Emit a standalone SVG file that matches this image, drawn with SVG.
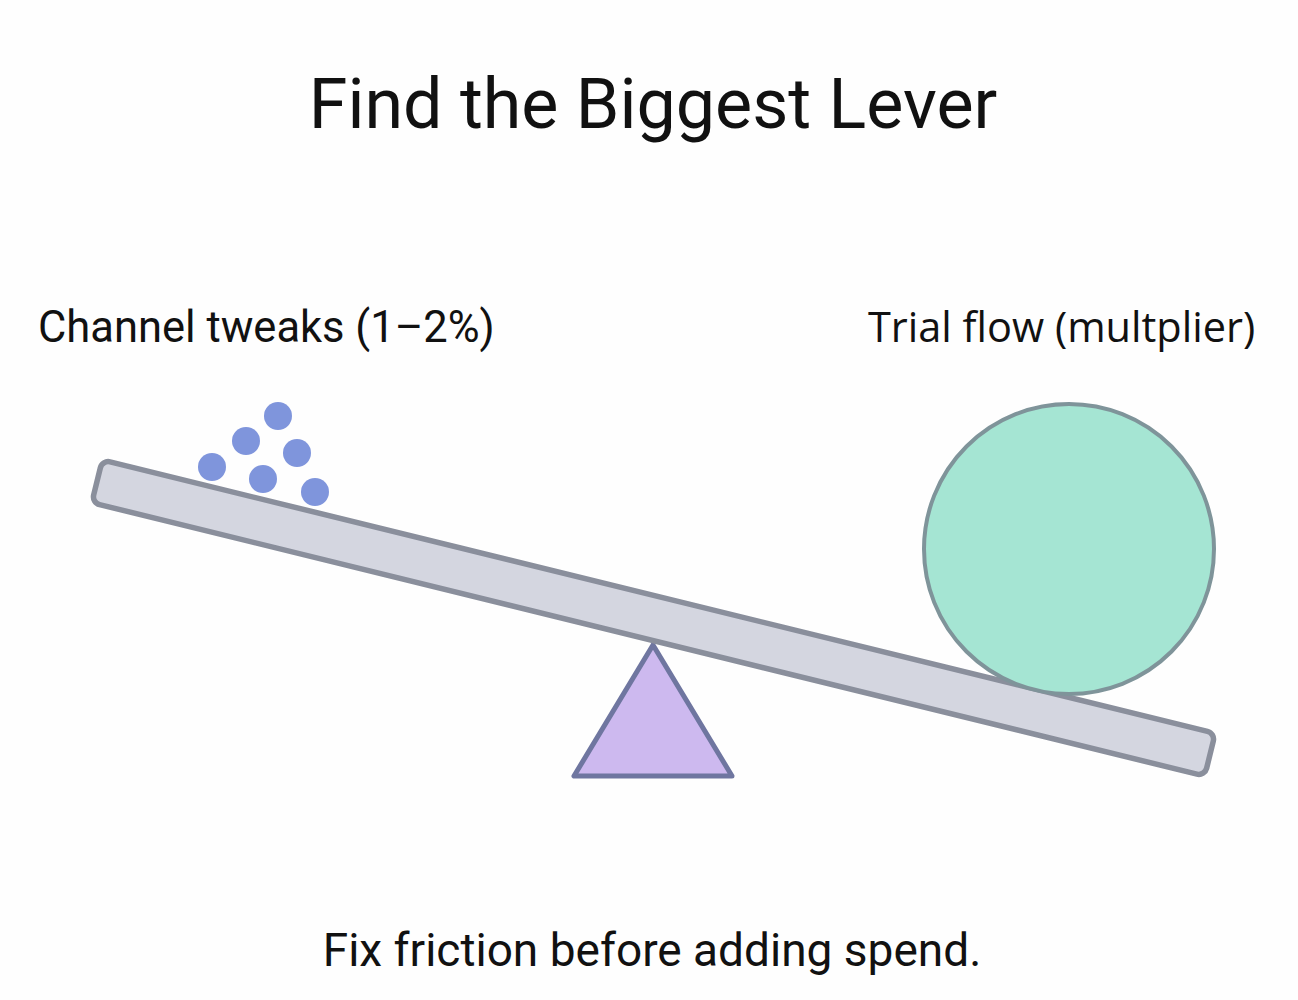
<svg xmlns="http://www.w3.org/2000/svg" width="1298" height="1000" viewBox="0 0 1298 1000">
<style>
.t{font-family:Roboto,"Liberation Sans",sans-serif;fill:#111;}
.ball{fill:#7f95dc;}
</style>
<rect width="1298" height="1000" fill="#fefefe"/>
<text class="t" x="653" y="128" font-size="70" text-anchor="middle">Find the Biggest Lever</text>
<g id="label-left"><text class="t" x="38" y="342" font-size="43.5">Channel tweaks (1–2%)</text></g>
<g id="label-right"><text x="868" y="342" font-size="41.5" style="font-family:'Open Sans','Noto Sans',sans-serif;fill:#111">Trial flow (multplier)</text></g>
<g id="fulcrum"><polygon points="653,645 574,776 732,776" fill="#cdb9ef" stroke="#6f76a0" stroke-width="5" stroke-linejoin="round"/></g>
<g id="plank"><rect x="80.5" y="596" width="1146" height="44" rx="8" transform="rotate(13.8 653.5 618)" fill="#d4d6e0" stroke="#8a8f9c" stroke-width="5.5"/></g>
<g id="big-ball"><circle cx="1069" cy="549" r="145" fill="#a5e5d3" stroke="#7f949a" stroke-width="4"/></g>
<g id="small-balls">
<circle class="ball" cx="278" cy="416" r="14"/>
<circle class="ball" cx="246" cy="441" r="14"/>
<circle class="ball" cx="297" cy="453" r="14"/>
<circle class="ball" cx="212" cy="467" r="14"/>
<circle class="ball" cx="263" cy="479" r="14"/>
<circle class="ball" cx="315" cy="492" r="14"/>
</g>
<g id="caption"><text class="t" x="652" y="966" font-size="46" text-anchor="middle">Fix friction before adding spend.</text></g>
<g id="connectors"/>
</svg>
